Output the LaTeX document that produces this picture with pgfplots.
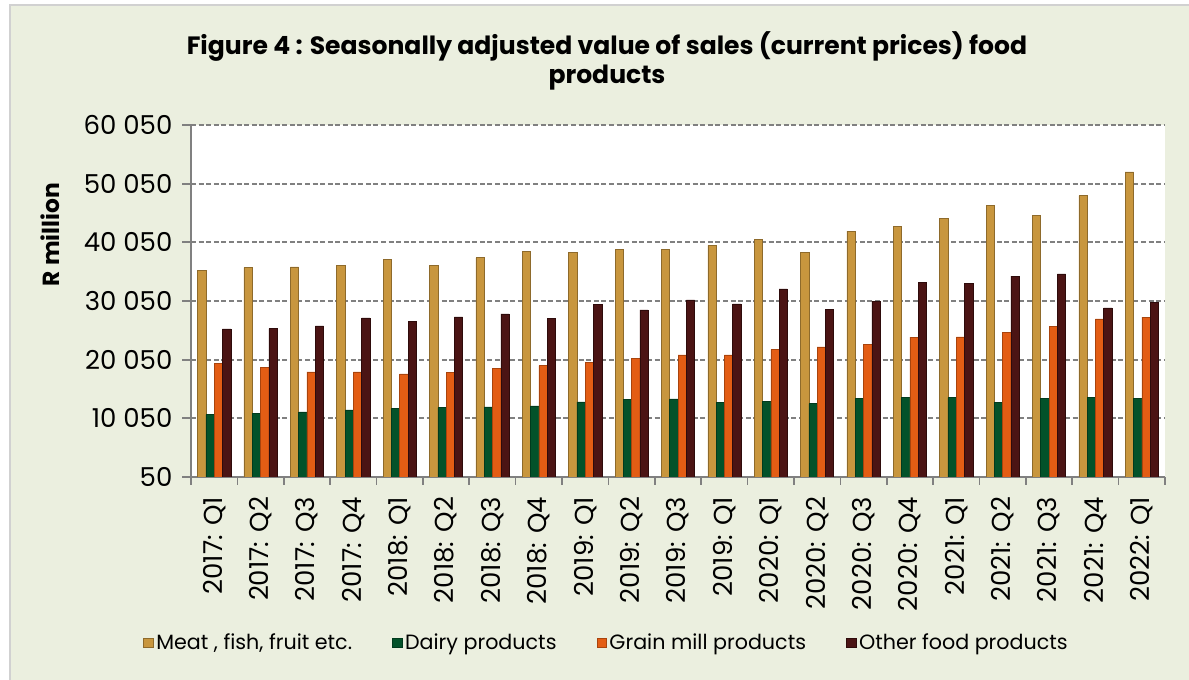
\documentclass[border=0pt]{standalone}
\usepackage{pgfplots}
\pgfplotsset{compat=1.18}
\usepackage{fontspec}
\setmainfont{Poppins}
\definecolor{bg}{HTML}{EBEFDF}
\definecolor{axgray}{HTML}{808080}
\definecolor{meat}{HTML}{C8963E}
\definecolor{meatE}{HTML}{8E6A2B}
\definecolor{dairy}{HTML}{03522A}
\definecolor{dairyE}{HTML}{013A1D}
\definecolor{grain}{HTML}{E35D14}
\definecolor{grainE}{HTML}{A9440D}
\definecolor{other}{HTML}{4B1414}
\definecolor{otherE}{HTML}{2E0B0B}
\begin{document}
\begin{tikzpicture}
\path[use as bounding box] (0pt,0pt) rectangle (891.75pt,510pt);
\fill[white] (0pt,0pt) rectangle (891.75pt,510pt);
\fill[black!18] (6.5pt,0pt) rectangle (891.75pt,506.8pt);
\fill[bg] (8.25pt,0pt) rectangle (891.75pt,505.5pt);
\node[font=\fontsize{18.8}{22}\selectfont\bfseries] at (455.25pt,474.75pt) {Figure 4 : Seasonally adjusted value of sales (current prices) food};
\node[font=\fontsize{18.8}{22}\selectfont\bfseries] at (455.25pt,451.5pt) {products};
\node[font=\fontsize{17.5}{20}\selectfont\bfseries, rotate=90] at (37.5pt,334pt) {R million};
\begin{axis}[
  at={(143.25pt,152.25pt)}, anchor=south west,
  scale only axis, width=730.5pt, height=264pt,
  axis background/.style={fill=white},
  ybar=0pt, bar width=0.179,
  xmin=-0.5, xmax=20.5, ymin=50, ymax=60050,
  scaled y ticks=false,
  axis x line*=bottom, axis y line*=left,
  axis line style={draw=axgray, line width=1.5pt, -},
  ymajorgrids,
  grid style={draw=axgray, line width=1.5pt, dash pattern=on 3.8pt off 1.9pt},
  ytick={50,10050,20050,30050,40050,50050,60050},
  yticklabels={50,10 050,20 050,30 050,40 050,50 050,60 050},
  tick align=outside,
  major tick length=6.75pt,
  ytick style={draw=axgray, line width=1.4pt},
  yticklabel style={font=\fontsize{19.5}{22}\selectfont, inner sep=0pt, xshift=-7pt},
  xtick={0,...,20},
  xticklabels={2017: Q1,2017: Q2,2017: Q3,2017: Q4,2018: Q1,2018: Q2,2018: Q3,2018: Q4,2019: Q1,2019: Q2,2019: Q3,2019: Q1,2020: Q1,2020: Q2,2020: Q3,2020: Q4,2021: Q1,2021: Q2,2021: Q3,2021: Q4,2022: Q1},
  xtick style={draw=none},
  xticklabel style={font=\fontsize{19.5}{22}\selectfont, rotate=90, anchor=east, inner sep=0pt, xshift=-8pt},
  extra x ticks={-0.5,0.5,...,20.5},
  extra x tick labels={},
  extra x tick style={grid=none, xtick style={draw=axgray, line width=1.2pt}, major tick length=6pt},
  legend style={at={(0.427,-0.4716)}, anchor=center, legend columns=4, draw=none, fill=none,
    font=\fontsize{15.5}{18}\selectfont,
    /tikz/every even column/.append style={column sep=28pt},
    legend cell align=left, inner sep=0pt},
  legend image code/.code={\draw[#1, line width=0.5pt] (0pt,-3.6pt) rectangle (7.2pt,3.6pt);},
]
\addplot[fill=meat, draw=meatE, line width=0.4pt] coordinates {
(0,35260)(1,35720)(2,35880)(3,36110)(4,37190)(5,36110)(6,37420)(7,38500)(8,38330)(9,38900)(10,38790)
(11,39530)(12,40490)(13,38330)(14,41970)(15,42830)(16,44130)(17,46300)(18,44590)(19,48000)(20,52040)};
\addplot[fill=dairy, draw=dairyE, line width=0.4pt] coordinates {
(0,10690)(1,10910)(2,11140)(3,11480)(4,11710)(5,11880)(6,12000)(7,12170)(8,12850)(9,13250)(10,13360)
(11,12790)(12,12910)(13,12560)(14,13470)(15,13640)(16,13590)(17,12790)(18,13420)(19,13590)(20,13470)};
\addplot[fill=grain, draw=grainE, line width=0.4pt] coordinates {
(0,19390)(1,18710)(2,17970)(3,17970)(4,17630)(5,17850)(6,18590)(7,19050)(8,19560)(9,20300)(10,20870)
(11,20870)(12,21780)(13,22230)(14,22630)(15,23880)(16,23940)(17,24680)(18,25700)(19,27010)(20,27300)};
\addplot[fill=other, draw=otherE, line width=0.4pt] coordinates {
(0,25300)(1,25360)(2,25820)(3,27180)(4,26560)(5,27350)(6,27870)(7,27070)(8,29460)(9,28550)(10,30250)
(11,29570)(12,32130)(13,28660)(14,30030)(15,33270)(16,32990)(17,34290)(18,34690)(19,28890)(20,29800)};
\legend{{Meat , fish, fruit etc.},{Dairy products},{Grain mill products},{Other food products}}
\end{axis}
\end{tikzpicture}
\end{document}
